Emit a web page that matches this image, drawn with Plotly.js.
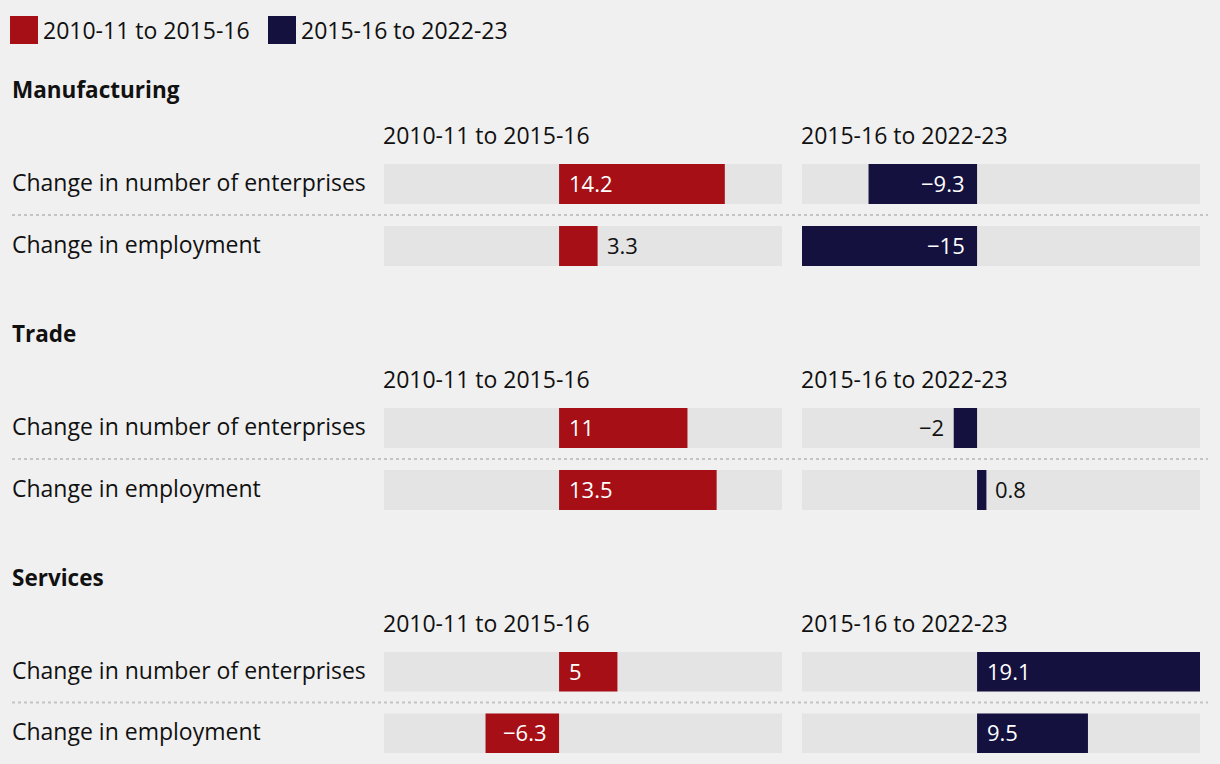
<!DOCTYPE html>
<html>
<head>
<meta charset="utf-8">
<script src="https://cdn.plot.ly/plotly-3.0.1.min.js"></script>
<style>html,body{margin:0;padding:0;background:#f0f0f0;}#chart{width:1220px;height:764px;}</style>
</head>
<body>
<div id="chart"></div>
<script>
// ---- data ----
const sections = ["Manufacturing", "Trade", "Services"];
const rowLabels = ["Change in number of enterprises", "Change in employment"];
const periods = ["2010-11 to 2015-16", "2015-16 to 2022-23"];
const manufacturing2010 = [14.2, 3.3];
const manufacturing2015 = [-9.3, -15];
const trade2010 = [11, 13.5];
const trade2015 = [-2, 0.8];
const services2010 = [5, -6.3];
const services2015 = [19.1, 9.5];

const values = [
  [manufacturing2010, manufacturing2015],
  [trade2010, trade2015],
  [services2010, services2015]
];
const colors = ["#a50f15", "#14113f"];

// ---- layout helpers ----
const W = 1220, H = 764;
const px = x => x / W;
const py = y => 1 - y / H;
const FONT = "'Open Sans', sans-serif";
const TXT = "#111111";
const LS = -3; // compensate annotation box padding

const all = values.flat(2);
const xmin = Math.min(...all), xmax = Math.max(...all);
const fmt = v => (v < 0 ? "\u2212" + Math.abs(v) : String(v));

const traces = [];
const layout = {
  width: W, height: H,
  margin: {l: 0, r: 0, t: 0, b: 0},
  paper_bgcolor: "#f0f0f0",
  plot_bgcolor: "rgba(0,0,0,0)",
  barmode: "overlay",
  showlegend: false,
  font: {family: FONT, size: 22, color: TXT},
  annotations: [],
  shapes: []
};

const colX = [[384, 782], [802, 1200]];
const BW = 40 / 62;

sections.forEach((sec, s) => {
  const top = 153 + 244 * s, bottom = 277 + 244 * s;
  // section title
  layout.annotations.push({
    text: "<b>" + sec + "</b>", xref: "paper", yref: "paper",
    x: px(13), xshift: LS, y: py(89 + 244 * s), xanchor: "left", yanchor: "middle",
    showarrow: false, font: {size: 22.5, family: FONT, color: TXT}
  });
  periods.forEach((per, c) => {
    const k = s * 2 + c + 1;
    const xa = "x" + (k === 1 ? "" : k), ya = "y" + (k === 1 ? "" : k);
    const xn = "xaxis" + (k === 1 ? "" : k), yn = "yaxis" + (k === 1 ? "" : k);
    layout[xn] = {
      domain: [px(colX[c][0]), px(colX[c][1])], range: [xmin, xmax],
      showgrid: false, zeroline: false, showticklabels: false, ticks: "",
      fixedrange: true, anchor: ya
    };
    layout[yn] = {
      domain: [py(bottom), py(top)], type: "category",
      categoryorder: "array", categoryarray: rowLabels,
      range: [1.5, -0.5], showgrid: false, zeroline: false,
      showticklabels: false, ticks: "", fixedrange: true, anchor: xa
    };
    const v = values[s][c];
    // grey track
    traces.push({
      type: "bar", orientation: "h", xaxis: xa, yaxis: ya,
      y: rowLabels, x: rowLabels.map(() => xmax - xmin), base: xmin,
      width: BW, marker: {color: "#e4e4e4"}, hoverinfo: "skip"
    });
    // data bar
    traces.push({
      type: "bar", orientation: "h", xaxis: xa, yaxis: ya, name: per,
      y: rowLabels, x: v, width: BW, marker: {color: colors[c]},
      hovertemplate: "%{y}: %{x}<extra>" + per + "</extra>"
    });
    // column header
    layout.annotations.push({
      text: per, xref: "paper", yref: "paper",
      x: px(colX[c][0]), xshift: LS, y: py(135 + 244 * s), xanchor: "left", yanchor: "middle",
      showarrow: false, font: {size: 23, family: FONT, color: TXT}
    });
    // value labels
    v.forEach((val, i) => {
      const inside = Math.abs(val) >= 4;
      const pos = val >= 0;
      const shift = inside ? (pos ? 8 : -10) : (pos ? 7 : -8);
      layout.annotations.push({
        text: fmt(val), xref: xa, yref: ya,
        x: inside ? 0 : val, y: i,
        xanchor: pos ? "left" : "right", yanchor: "middle",
        xshift: shift, yshift: 1,
        showarrow: false,
        font: {size: 22, family: FONT, color: inside ? "#ffffff" : TXT}
      });
    });
    if (c === 0) {
      // row labels
      rowLabels.forEach((lab, i) => {
        layout.annotations.push({
          text: lab, xref: "paper", yref: ya, x: px(13), xshift: LS, y: i,
          xanchor: "left", yanchor: "middle", yshift: 2, showarrow: false,
          font: {size: 23, family: FONT, color: TXT}
        });
      });
      // dotted separator between the two rows
      layout.shapes.push({
        type: "line", xref: "paper", yref: ya,
        x0: px(12), x1: px(1208), y0: 0.5, y1: 0.5,
        line: {color: "#c4c4c4", width: 2, dash: "dot"}
      });
    }
  });
});

// legend
const legX = [[10, 38, 44], [268, 296, 302]];
periods.forEach((per, c) => {
  layout.shapes.push({
    type: "rect", xref: "paper", yref: "paper",
    x0: px(legX[c][0]), x1: px(legX[c][1]), y0: py(44), y1: py(16),
    line: {width: 0}, fillcolor: colors[c]
  });
  layout.annotations.push({
    text: per, xref: "paper", yref: "paper",
    x: px(legX[c][2]), xshift: LS, y: py(30), xanchor: "left", yanchor: "middle",
    showarrow: false, font: {size: 23, family: FONT, color: TXT}
  });
});

Plotly.newPlot("chart", traces, layout, {displayModeBar: false});
</script>
</body>
</html>
